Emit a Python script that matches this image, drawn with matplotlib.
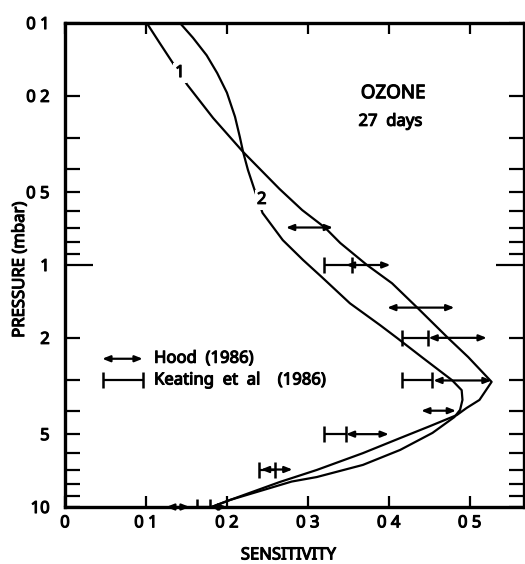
import matplotlib
matplotlib.use("Agg")
import matplotlib.pyplot as plt
import matplotlib.patheffects as pe

plt.rcParams['font.family'] = ['Noto Sans', 'DejaVu Sans']
plt.rcParams['font.stretch'] = 'condensed'

# curve 1 (sharp peak) and curve 2 (rounded peak), sensitivity vs pressure (mbar)
sens1 = [0.101, 0.117, 0.133, 0.151, 0.183, 0.220, 0.265, 0.293, 0.321, 0.340, 0.373,
         0.404, 0.436, 0.473, 0.498, 0.527,
         0.512, 0.496, 0.484, 0.451, 0.414, 0.368, 0.311, 0.265, 0.204, 0.181]
pres1 = [0.100, 0.121, 0.146, 0.180, 0.247, 0.341, 0.485, 0.593, 0.700, 0.811, 1.00,
         1.19, 1.51, 2.00, 2.40, 3.04,
         3.61, 3.90, 4.17, 4.63, 5.19, 5.99, 7.03, 7.89, 9.35, 10.0]

sens2 = [0.142, 0.158, 0.175, 0.188, 0.200, 0.210, 0.216, 0.220, 0.226, 0.235, 0.244,
         0.269, 0.294, 0.317, 0.352, 0.389, 0.410, 0.442, 0.478, 0.490, 0.491, 0.488,
         0.481, 0.454, 0.414, 0.368, 0.311, 0.280, 0.204, 0.181]
pres2 = [0.100, 0.115, 0.136, 0.161, 0.194, 0.244, 0.296, 0.341, 0.405, 0.499, 0.609,
         0.789, 0.953, 1.12, 1.44, 1.77, 2.00, 2.42, 2.99, 3.29, 3.61, 3.97,
         4.25, 4.94, 5.81, 6.70, 7.52, 7.85, 9.35, 10.0]

# Hood (1986) ranges
hood_p = [0.7, 1.0, 1.5, 2.0, 3.0, 4.0, 5.0, 7.0, 10.0, 10.0]
hood_lo = [0.273, 0.347, 0.398, 0.449, 0.455, 0.440, 0.347, 0.242, 0.125, 0.179]
hood_hi = [0.331, 0.402, 0.481, 0.521, 0.527, 0.483, 0.400, 0.281, 0.154, 0.200]

# Keating et al (1986): lower end and central value
keat_p = [1.0, 2.0, 3.0, 5.0, 7.0, 10.0]
keat_lo = [0.320, 0.416, 0.416, 0.320, 0.240, 0.163]
keat_c = [0.354, 0.449, 0.453, 0.347, 0.259, 0.179]

xticks = [0, 0.1, 0.2, 0.3, 0.4, 0.5]
xlabels = ['0', '0 1', '0 2', '0 3', '0 4', '0 5']
yticks = [0.1, 0.2, 0.3, 0.4, 0.5, 0.6, 0.7, 0.8, 0.9, 1, 2, 3, 4, 5, 6, 7, 8, 9, 10]
ylabels = {0.1: '0 1', 0.2: '0 2', 0.5: '0 5', 1: '1', 2: '2', 5: '5', 10: '10'}

# thicken the thin condensed glyphs a little
heavy = [pe.withStroke(linewidth=0.8, foreground='black')]

fig = plt.figure(figsize=(5.25, 5.64), dpi=100)
ax = fig.add_axes([65 / 525, 1 - 507 / 564, 459 / 525, 484 / 564])

ax.set_yscale('log')
ax.set_xlim(0, 0.567)
ax.set_ylim(10, 0.1)

ax.plot(sens1, pres1, color='black', lw=1.6, zorder=3)
ax.plot(sens2, pres2, color='black', lw=1.6, zorder=3)

ax.text(0.142, 0.161, '1', fontsize=12, ha='center', va='center', path_effects=heavy,
        bbox=dict(facecolor='white', edgecolor='none', pad=1.5), zorder=4)
ax.text(0.243, 0.538, '2', fontsize=12, ha='center', va='center', path_effects=heavy,
        bbox=dict(facecolor='white', edgecolor='none', pad=1.5), zorder=4)

arrow = dict(arrowstyle='<|-|>,head_length=0.45,head_width=0.18', color='black',
             lw=1.6, shrinkA=0, shrinkB=0)
for p, lo, hi in zip(hood_p, hood_lo, hood_hi):
    ax.annotate('', xy=(hi, p), xytext=(lo, p), arrowprops=arrow, zorder=5)

for p, lo, c in zip(keat_p, keat_lo, keat_c):
    ax.errorbar(c, p, xerr=[[c - lo], [0]], fmt='none', ecolor='black', elinewidth=1.6,
                capsize=6, capthick=1.8, zorder=5)

# legend drawn by hand
ax.annotate('', xy=(0.096, 2.44), xytext=(0.046, 2.44), arrowprops=arrow)
ax.errorbar(0.0712, 3.0, xerr=0.0248, fmt='none', ecolor='black', elinewidth=1.6,
            capsize=6, capthick=1.8)
ax.text(0.110, 2.44, 'Hood  (1986)', fontsize=12, va='center', path_effects=heavy)
ax.text(0.110, 3.0, 'Keating  et  al    (1986)', fontsize=12, va='center', path_effects=heavy)

ax.text(0.4055, 0.195, 'OZONE', fontsize=13.5, ha='center', va='center', path_effects=heavy)
ax.text(0.402, 0.256, '27  days', fontsize=12, ha='center', va='center', path_effects=heavy)

ax.set_xticks(xticks)
ax.set_xticklabels(xlabels, fontsize=12)
ax.set_yticks(yticks)
ax.set_yticklabels([ylabels.get(t, '') for t in yticks], fontsize=12)
for lbl in ax.get_xticklabels() + ax.get_yticklabels():
    lbl.set_path_effects(heavy)
ax.minorticks_off()
ax.tick_params(axis='x', direction='in', length=8, width=1.6, top=True, pad=6)
ax.tick_params(axis='y', direction='in', length=11, width=1.6, right=True, pad=11)
i1 = yticks.index(1)
tk = ax.yaxis.get_major_ticks()[i1]
tk.tick1line.set_markersize(20)
tk.tick2line.set_markersize(20)

for s in ax.spines.values():
    s.set_linewidth(2.4)

ax.text(-0.098, 0.49, 'PRESSURE (mbar)', transform=ax.transAxes, rotation=90,
        fontsize=12, ha='center', va='center', path_effects=heavy)
ax.text(0.486, -0.1, 'SENSITIVITY', transform=ax.transAxes,
        fontsize=12, ha='center', va='center', path_effects=heavy)

fig.savefig('out.png', dpi=100)
